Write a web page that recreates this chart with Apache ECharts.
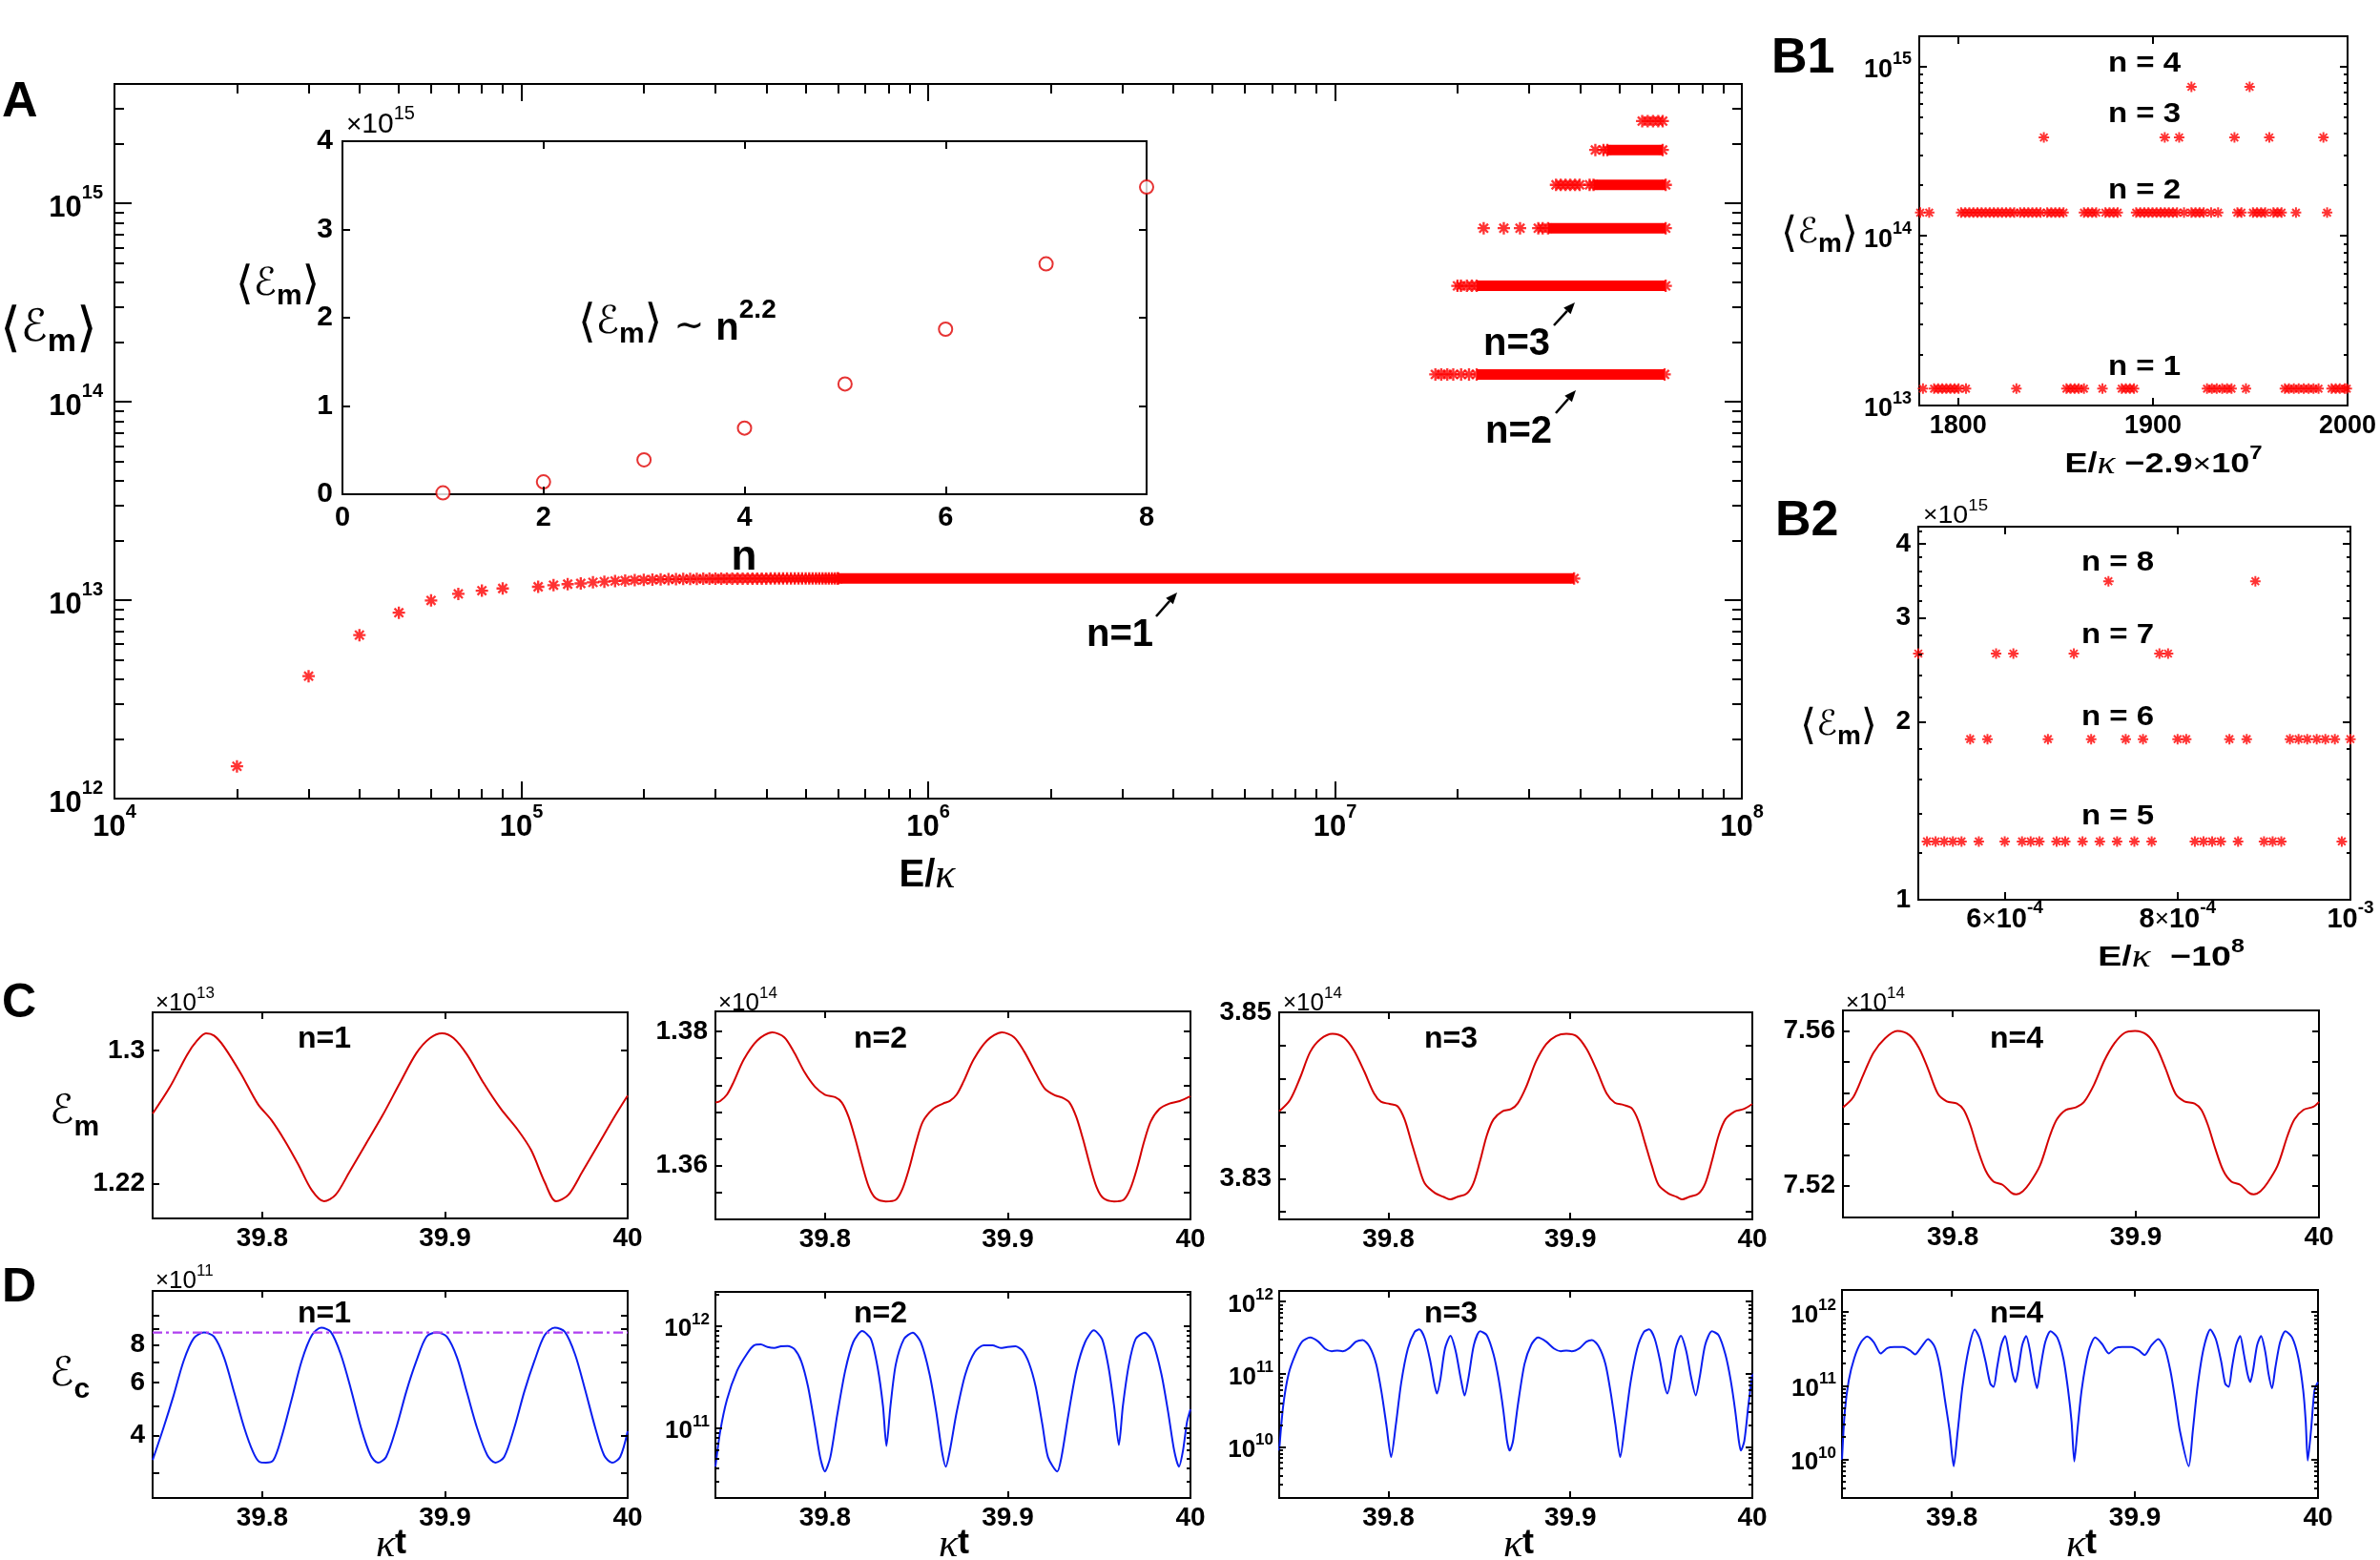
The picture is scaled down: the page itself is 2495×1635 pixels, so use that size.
<!DOCTYPE html>
<html><head><meta charset="utf-8">
<script src="https://cdn.jsdelivr.net/npm/echarts@6/dist/echarts.min.js"></script>
<style>html,body{margin:0;padding:0;background:#fff}#c{width:2495px;height:1635px}</style>
</head><body><div id="c"></div><script>
// ================= DATA =================
// Panel A inset: <E_m> (x10^15) vs n
const insetN = [1, 2, 3, 4, 5, 6, 7, 8];
const insetMeanEm = [0.015, 0.14, 0.39, 0.75, 1.25, 1.87, 2.61, 3.48];

// Panel A: individual n=1 points
const aN1X = [2e4,3e4,4e4,5e4,6e4,7e4,8e4,9e4,1.1e5,1.2e5,1.3e5,1.4e5,1.5e5,1.6e5,1.7e5,1.8e5,1.9e5,2.0e5,2.1e5,2.2e5,2.3e5,2.4e5,2.5e5,2.6e5,2.7e5,2.8e5,2.9e5,3.0e5,
  3.1e5,3.2e5,3.3e5,3.4e5,3.5e5,3.6e5,3.7e5,3.8e5,3.9e5,4.0e5,4.1e5,4.2e5,4.3e5,4.4e5,4.5e5,4.6e5,4.7e5,4.8e5,4.9e5,5.0e5,5.1e5,5.2e5,5.3e5,5.4e5,5.5e5,5.6e5,5.7e5,5.8e5,5.9e5,6.0e5];
const aN1Y = [1.455e12,4.14e12,6.67e12,8.65e12,9.97e12,1.076e13,1.117e13,1.146e13,1.168e13,1.19e13,1.205e13,1.215e13,1.23e13,1.24e13,1.25e13,1.256e13,1.262e13,1.266e13,1.27e13,1.273e13,1.275e13,1.277e13,1.279e13,1.28e13,1.281e13,1.282e13,1.283e13,1.284e13,
  1.284e13,1.284e13,1.285e13,1.285e13,1.285e13,1.285e13,1.285e13,1.285e13,1.285e13,1.285e13,1.286e13,1.286e13,1.286e13,1.286e13,1.286e13,1.286e13,1.286e13,1.286e13,1.286e13,1.286e13,1.286e13,1.286e13,1.286e13,1.286e13,1.286e13,1.286e13,1.286e13,1.286e13,1.286e13,1.286e13];
// Panel A: dense branches n = 1..7 (level, start and end of the solid band)
const aBandN     = [1, 2, 3, 4, 5, 6, 7];
const aBandLevel = [1.286e13, 1.374e14, 3.84e14, 7.5e14, 1.24e15, 1.86e15, 2.6e15];
const aBandStart = [6.0e5, 2.23e7, 2.23e7, 3.34e7, 4.32e7, 4.67e7, null];
const aBandEnd   = [3.87e7, 6.46e7, 6.5e7, 6.5e7, 6.5e7, 6.39e7, null];
// Panel A: isolated points at the beginning of each branch
const aSparseX = [
  [],
  [1.765e7, 1.825e7, 1.888e7, 1.953e7, 2.042e7, 2.135e7],
  [2.0e7, 2.04e7, 2.11e7, 2.17e7],
  [2.32e7, 2.60e7, 2.85e7, 3.16e7, 3.24e7],
  [3.494e7, 3.588e7, 3.686e7, 3.786e7, 3.890e7, 3.994e7, 4.225e7],
  [4.365e7, 4.57e7],
  [5.69e7, 5.87e7, 6.05e7, 6.23e7, 6.39e7]
];

// Panel B1: E/kappa - 2.9e7 positions of points on each branch
const b1Level = [1.257e13, 1.37e14, 3.8e14, 7.55e14];
const b1N1X = [1781.9,1787.6,1789.7,1791.8,1793.9,1796.0,1798.1,1800.2,1804.0,1829.9,1855.6,1857.7,1859.8,1861.9,1864.6,1874.1,1884.0,1886.1,1888.2,1890.3,1927.8,1930.3,1932.8,1935.6,1938.1,1940.4,1947.8,1967.8,1969.9,1972.4,1974.9,1977.5,1980.0,1982.5,1985.1,1991.8,1993.9,1996.0,1998.5,1999.6];
const b1N2X = [1780.5,1785.1,1801.5,1803.6,1805.7,1807.8,1809.9,1812.0,1814.1,1816.2,1818.3,1820.4,1822.5,1824.6,1826.7,1828.8,1831.8,1833.9,1836.0,1838.1,1840.2,1842.3,1845.7,1847.8,1849.9,1852.0,1854.1,1864.6,1866.7,1868.8,1870.9,1875.6,1877.7,1879.8,1881.9,1891.4,1893.5,1895.6,1897.7,1899.8,1901.9,1904.0,1906.1,1908.2,1910.3,1912.4,1916.0,1919.8,1921.9,1924.0,1926.1,1929.9,1933.5,1943.4,1945.5,1951.4,1953.5,1955.6,1957.7,1961.9,1964.0,1966.1,1973.5,1989.5];
const b1N3X = [1844.0,1906.1,1913.5,1941.9,1959.8,1987.6];
const b1N4X = [1919.8,1949.7];

// Panel B2: E/kappa - 1e8 positions, levels in x10^15
const b2Level = [1.255, 1.87, 2.61, 3.46];
const b2N5X = [5.10e-4,5.20e-4,5.30e-4,5.40e-4,5.50e-4,5.70e-4,6.00e-4,6.20e-4,6.30e-4,6.40e-4,6.60e-4,6.70e-4,6.90e-4,7.10e-4,7.30e-4,7.50e-4,7.70e-4,8.20e-4,8.30e-4,8.40e-4,8.50e-4,8.70e-4,9.00e-4,9.10e-4,9.20e-4,9.90e-4];
const b2N6X = [5.60e-4,5.80e-4,6.50e-4,7.00e-4,7.40e-4,7.60e-4,8.00e-4,8.10e-4,8.60e-4,8.80e-4,9.30e-4,9.40e-4,9.50e-4,9.61e-4,9.71e-4,9.82e-4,1.0e-3];
const b2N7X = [5.0e-4,5.90e-4,6.10e-4,6.80e-4,7.79e-4,7.89e-4];
const b2N8X = [7.20e-4,8.90e-4];

// Panel C: E_m(t), n=1 (x10^13), n=2..4 (x10^14)
const cN1 = [[39.7400,1.2620],[39.7496,1.2783],[39.7589,1.2975],[39.7644,1.3061],[39.7692,1.3104],[39.7736,1.3090],[39.7791,1.3023],[39.7884,1.2860],[39.7976,1.2678],[39.8050,1.2582],[39.8124,1.2457],[39.8198,1.2313],[39.8271,1.2160],[39.8338,1.2093],[39.8401,1.2131],[39.8475,1.2265],[39.8567,1.2438],[39.8659,1.2611],[39.8752,1.2802],[39.8844,1.2985],[39.8918,1.3075],[39.8984,1.3104],[39.9047,1.3075],[39.9121,1.2975],[39.9213,1.2802],[39.9306,1.2649],[39.9398,1.2524],[39.9472,1.2400],[39.9546,1.2208],[39.9608,1.2093],[39.9675,1.2131],[39.9749,1.2265],[39.9841,1.2438],[39.9933,1.2611],[40.0000,1.2729]];
const cN2 = [[39.7400,1.36941],[39.7426,1.36964],[39.7463,1.37059],[39.7500,1.37249],[39.7555,1.37582],[39.7629,1.37867],[39.7711,1.37986],[39.7777,1.37914],[39.7833,1.37677],[39.7888,1.37392],[39.7944,1.37178],[39.7999,1.37059],[39.8055,1.37021],[39.8092,1.36941],[39.8129,1.36727],[39.8166,1.36394],[39.8203,1.36014],[39.8240,1.35682],[39.8277,1.35515],[39.8332,1.35468],[39.8387,1.35492],[39.8424,1.35658],[39.8461,1.35967],[39.8498,1.36347],[39.8535,1.36656],[39.8591,1.36846],[39.8646,1.36926],[39.8683,1.36964],[39.8720,1.37059],[39.8757,1.37249],[39.8813,1.37582],[39.8887,1.37867],[39.8968,1.37986],[39.9035,1.37914],[39.9090,1.37701],[39.9146,1.37416],[39.9201,1.37154],[39.9257,1.37050],[39.9301,1.37012],[39.9338,1.36941],[39.9375,1.36727],[39.9412,1.36394],[39.9449,1.36014],[39.9486,1.35682],[39.9523,1.35515],[39.9582,1.35468],[39.9634,1.35492],[39.9671,1.35658],[39.9708,1.35967],[39.9745,1.36347],[39.9782,1.36656],[39.9830,1.36846],[39.9885,1.36926],[39.9941,1.36964],[40.0000,1.37036]];
const cN3 = [[39.7400,3.83809],[39.7459,3.83944],[39.7515,3.84214],[39.7570,3.84522],[39.7626,3.84676],[39.7693,3.84742],[39.7756,3.84696],[39.7811,3.84541],[39.7867,3.84291],[39.7922,3.84021],[39.7959,3.83925],[39.8007,3.83898],[39.8052,3.83867],[39.8089,3.83713],[39.8126,3.83443],[39.8163,3.83173],[39.8200,3.82942],[39.8256,3.82827],[39.8304,3.82780],[39.8341,3.82750],[39.8378,3.82780],[39.8430,3.82819],[39.8467,3.82942],[39.8504,3.83212],[39.8541,3.83520],[39.8578,3.83713],[39.8626,3.83809],[39.8674,3.83836],[39.8711,3.83906],[39.8756,3.84098],[39.8811,3.84407],[39.8867,3.84618],[39.8922,3.84715],[39.8978,3.84742],[39.9033,3.84715],[39.9089,3.84561],[39.9144,3.84310],[39.9200,3.84021],[39.9244,3.83913],[39.9293,3.83886],[39.9337,3.83848],[39.9374,3.83694],[39.9411,3.83424],[39.9448,3.83154],[39.9485,3.82923],[39.9541,3.82819],[39.9585,3.82780],[39.9615,3.82750],[39.9652,3.82780],[39.9704,3.82819],[39.9741,3.82942],[39.9778,3.83212],[39.9815,3.83520],[39.9852,3.83713],[39.9904,3.83809],[39.9952,3.83836],[40.0000,3.83898]];
const cN4 = [[39.7400,7.54025],[39.7456,7.54288],[39.7511,7.54864],[39.7567,7.55440],[39.7630,7.55811],[39.7697,7.56000],[39.7763,7.55893],[39.7815,7.55564],[39.7864,7.55029],[39.7919,7.54370],[39.7967,7.54181],[39.8023,7.54123],[39.8060,7.53959],[39.8097,7.53547],[39.8134,7.52971],[39.8179,7.52395],[39.8223,7.52107],[39.8272,7.52025],[39.8320,7.51819],[39.8346,7.51778],[39.8383,7.51860],[39.8420,7.52066],[39.8476,7.52519],[39.8531,7.53300],[39.8568,7.53712],[39.8617,7.53959],[39.8672,7.54025],[39.8717,7.54165],[39.8772,7.54617],[39.8828,7.55235],[39.8884,7.55687],[39.8939,7.55951],[39.8995,7.56000],[39.9062,7.55893],[39.9114,7.55564],[39.9162,7.55029],[39.9217,7.54370],[39.9265,7.54181],[39.9321,7.54123],[39.9358,7.53959],[39.9395,7.53547],[39.9433,7.52971],[39.9477,7.52395],[39.9522,7.52107],[39.9570,7.52025],[39.9618,7.51819],[39.9644,7.51778],[39.9681,7.51860],[39.9718,7.52066],[39.9774,7.52519],[39.9829,7.53300],[39.9866,7.53712],[39.9915,7.53959],[39.9970,7.54041],[40.0000,7.54165]];

// Panel D: E_c(t); n=1 in x10^11, n=2..4 absolute
const dN1 = [[39.7400,3.313],[39.7459,4.232],[39.7514,5.406],[39.7570,7.077],[39.7625,8.403],[39.7681,8.782],[39.7736,8.507],[39.7791,7.252],[39.7847,5.540],[39.7902,4.232],[39.7950,3.521],[39.7983,3.272],[39.8020,3.248],[39.8061,3.313],[39.8105,3.932],[39.8161,5.276],[39.8216,7.077],[39.8272,8.612],[39.8323,9.110],[39.8375,8.825],[39.8430,7.432],[39.8486,5.678],[39.8541,4.232],[39.8593,3.437],[39.8633,3.248],[39.8678,3.395],[39.8733,4.232],[39.8789,5.608],[39.8844,7.077],[39.8899,8.507],[39.8955,8.782],[39.9010,8.507],[39.9066,7.252],[39.9121,5.540],[39.9176,4.232],[39.9232,3.437],[39.9276,3.248],[39.9324,3.395],[39.9379,4.232],[39.9435,5.608],[39.9490,7.077],[39.9546,8.612],[39.9601,9.110],[39.9656,8.825],[39.9712,7.432],[39.9767,5.678],[39.9823,4.232],[39.9871,3.437],[39.9915,3.248],[39.9959,3.395],[40.0000,4.130]];
const dN1Threshold = 8.78;
const dN2 = [[39.7400,4.157e10],[39.7426,9.173e10],[39.7463,1.884e11],[39.7518,3.599e11],[39.7574,5.348e11],[39.7611,6.401e11],[39.7648,6.541e11],[39.7685,6.175e11],[39.7722,6.043e11],[39.7759,6.265e11],[39.7796,6.310e11],[39.7833,5.871e11],[39.7870,4.467e11],[39.7907,2.512e11],[39.7944,1.059e11],[39.7973,5.158e10],[39.7999,3.731e10],[39.8029,5.158e10],[39.8066,1.314e11],[39.8110,3.599e11],[39.8154,6.879e11],[39.8203,8.847e11],[39.8251,7.391e11],[39.8288,3.868e11],[39.8317,1.632e11],[39.8336,6.636e10],[39.8358,1.632e11],[39.8387,4.157e11],[39.8432,7.391e11],[39.8480,8.535e11],[39.8524,6.879e11],[39.8572,3.350e11],[39.8609,1.413e11],[39.8639,5.957e10],[39.8661,4.157e10],[39.8683,5.957e10],[39.8720,1.413e11],[39.8768,3.350e11],[39.8820,5.544e11],[39.8868,6.401e11],[39.8916,6.401e11],[39.8961,6.043e11],[39.8998,6.175e11],[39.9042,6.265e11],[39.9079,5.747e11],[39.9116,4.309e11],[39.9153,2.512e11],[39.9190,1.059e11],[39.9220,5.158e10],[39.9271,3.731e10],[39.9294,5.158e10],[39.9331,1.314e11],[39.9375,3.599e11],[39.9423,6.879e11],[39.9471,8.978e11],[39.9516,7.391e11],[39.9552,3.868e11],[39.9582,1.632e11],[39.9608,6.781e10],[39.9630,1.632e11],[39.9663,4.157e11],[39.9700,7.391e11],[39.9749,8.535e11],[39.9793,6.879e11],[39.9841,3.350e11],[39.9878,1.413e11],[39.9911,5.957e10],[39.9937,4.157e10],[39.9959,5.957e10],[39.9981,1.138e11],[40.0000,1.518e11]];
const dN3 = [[39.7400,8.852e9],[39.7422,3.674e10],[39.7452,1.015e11],[39.7489,1.868e11],[39.7526,2.807e11],[39.7570,3.203e11],[39.7615,2.807e11],[39.7652,2.244e11],[39.7689,2.069e11],[39.7719,2.112e11],[39.7748,2.069e11],[39.7785,2.290e11],[39.7822,2.807e11],[39.7859,2.953e11],[39.7896,2.410e11],[39.7933,1.377e11],[39.7963,5.516e10],[39.7989,1.996e10],[39.8015,7.222e9],[39.8041,1.996e10],[39.8070,7.483e10],[39.8107,2.244e11],[39.8144,3.806e11],[39.8170,4.130e11],[39.8200,3.107e11],[39.8230,1.525e11],[39.8252,7.483e10],[39.8267,5.405e10],[39.8285,8.286e10],[39.8311,2.244e11],[39.8341,3.370e11],[39.8370,2.069e11],[39.8396,9.171e10],[39.8419,5.087e10],[39.8441,9.171e10],[39.8470,2.535e11],[39.8504,3.885e11],[39.8541,3.439e11],[39.8578,1.868e11],[39.8607,8.286e10],[39.8633,2.999e10],[39.8652,1.201e10],[39.8667,8.852e9],[39.8685,1.201e10],[39.8711,3.674e10],[39.8748,1.377e11],[39.8785,2.535e11],[39.8822,3.203e11],[39.8867,2.807e11],[39.8911,2.244e11],[39.8948,2.069e11],[39.8978,2.112e11],[39.9007,2.069e11],[39.9052,2.290e11],[39.9089,2.807e11],[39.9119,2.953e11],[39.9156,2.410e11],[39.9193,1.377e11],[39.9222,5.516e10],[39.9248,1.996e10],[39.9274,7.222e9],[39.9300,1.996e10],[39.9330,7.483e10],[39.9367,2.244e11],[39.9404,3.806e11],[39.9433,4.130e11],[39.9463,3.107e11],[39.9493,1.525e11],[39.9515,7.483e10],[39.9533,5.405e10],[39.9552,8.286e10],[39.9578,2.244e11],[39.9607,3.370e11],[39.9637,2.069e11],[39.9663,9.171e10],[39.9689,5.087e10],[39.9711,9.171e10],[39.9741,2.535e11],[39.9778,3.885e11],[39.9815,3.439e11],[39.9852,1.868e11],[39.9881,8.286e10],[39.9907,2.999e10],[39.9926,1.201e10],[39.9937,8.852e9],[39.9956,1.201e10],[39.9978,3.674e10],[40.0000,1.015e11]];
const dN4 = [[39.7400,9.803e9],[39.7415,4.359e10],[39.7437,1.178e11],[39.7467,2.364e11],[39.7504,3.887e11],[39.7537,4.649e11],[39.7574,3.887e11],[39.7611,2.745e11],[39.7648,3.250e11],[39.7685,3.348e11],[39.7733,3.348e11],[39.7770,3.031e11],[39.7799,2.664e11],[39.7833,3.348e11],[39.7870,4.294e11],[39.7907,3.348e11],[39.7936,1.754e11],[39.7962,6.487e10],[39.7988,2.400e10],[39.8010,8.036e9],[39.8032,2.400e10],[39.8058,9.655e10],[39.8092,3.185e11],[39.8125,5.787e11],[39.8154,4.294e11],[39.8184,2.140e11],[39.8210,1.067e11],[39.8228,9.655e10],[39.8247,1.754e11],[39.8269,3.519e11],[39.8291,4.744e11],[39.8310,2.884e11],[39.8332,1.438e11],[39.8347,1.121e11],[39.8362,1.588e11],[39.8384,3.519e11],[39.8406,4.744e11],[39.8428,2.884e11],[39.8447,1.438e11],[39.8465,9.190e10],[39.8484,1.754e11],[39.8510,3.887e11],[39.8539,5.506e11],[39.8576,4.512e11],[39.8609,2.364e11],[39.8635,8.743e10],[39.8654,3.234e10],[39.8669,9.328e9],[39.8687,2.650e10],[39.8709,8.743e10],[39.8746,2.884e11],[39.8783,4.512e11],[39.8820,3.699e11],[39.8857,2.745e11],[39.8894,3.250e11],[39.8931,3.348e11],[39.8979,3.348e11],[39.9020,3.031e11],[39.9053,2.611e11],[39.9090,3.519e11],[39.9127,4.294e11],[39.9164,3.185e11],[39.9194,1.588e11],[39.9220,6.487e10],[39.9246,2.400e10],[39.9294,8.036e9],[39.9316,2.400e10],[39.9342,9.655e10],[39.9375,3.185e11],[39.9412,5.787e11],[39.9442,4.294e11],[39.9471,2.140e11],[39.9493,1.067e11],[39.9512,9.655e10],[39.9530,1.754e11],[39.9552,3.519e11],[39.9575,4.744e11],[39.9593,2.884e11],[39.9615,1.438e11],[39.9630,1.121e11],[39.9645,1.588e11],[39.9667,3.519e11],[39.9689,4.744e11],[39.9712,2.884e11],[39.9730,1.438e11],[39.9749,9.190e10],[39.9767,1.754e11],[39.9793,3.887e11],[39.9822,5.506e11],[39.9859,4.512e11],[39.9893,2.364e11],[39.9919,8.743e10],[39.9933,3.234e10],[39.9944,9.610e9],[39.9963,2.650e10],[39.9981,8.743e10],[40.0000,1.121e11]];

// Tick values
const decadesA_X = [1e4,1e5,1e6,1e7,1e8];
const decadesA_Y = [1e12,1e13,1e14,1e15];
const tC = [39.8, 39.9, 40];

// ================= STYLE HELPERS =================
const FONT = '"Liberation Sans", Arial, Helvetica, sans-serif';
const SERIF = '"Liberation Serif", "DejaVu Serif", serif';
const MATH = '"DejaVu Sans", sans-serif';
const STAR = 'path://M-1.8,-10L1.8,-10L1.8,10L-1.8,10Z M-10,-1.8L10,-1.8L10,1.8L-10,1.8Z M8.34,5.80L5.80,8.34L-8.34,-5.80L-5.80,-8.34Z M8.34,-5.80L-5.80,8.34L-8.34,5.80L5.80,-8.34Z';
const RED = '#ff0000', CRED = '#d40000', BLUE = '#0a1ef0', PURPLE = '#b040f0';

function tok(H, fs, o, extra) {
  const pt = (H - fs) / 2 + o, pb = (H - fs) / 2 - o;
  return Object.assign({fontSize: fs, lineHeight: fs, padding: [pt, 0, pb, 0], fontWeight: 'bold',
    fontFamily: FONT, fontStyle: 'normal', color: '#000', fill: '#000'}, extra || {});
}
const NORM = {fontWeight: 'normal'};
const KAPPA = {fontFamily: SERIF, fontStyle: 'italic', fontWeight: 'normal'};
const MTH = {fontFamily: MATH, fontWeight: 'normal'};
function logFmt(v) { return '{b|10}{s|' + Math.round(Math.log10(v)) + '}'; }
function numFmt(v) { return String(+(+v).toFixed(6)); }

const richA = {b: tok(42, 31, 5), s: tok(42, 20, -11)};
const richB1 = {b: tok(36, 27, 4), s: tok(36, 18, -7)};
const richD = {b: tok(34, 26, 3.5), s: tok(34, 17, -6.5)};
const richB2x = {b: tok(38, 29, 4), x: tok(38, 26, 4, NORM), s: tok(38, 19, -7.5)};

// ================= OPTION =================
const option = {animation: false, backgroundColor: '#fff', textStyle: {fontFamily: FONT},
  grid: [], xAxis: [], yAxis: [], series: [], graphic: []};

function axisObj(gi, spec, pos, ticks, len, label) {
  return {
    type: spec.type, gridIndex: gi, position: pos, min: spec.min, max: spec.max,
    axisLine: {show: false, onZero: false}, splitLine: {show: false}, splitArea: {show: false},
    minorTick: {show: false}, minorSplitLine: {show: false},
    axisTick: {show: !!(ticks && ticks.length), inside: true, length: len, customValues: ticks || [],
      lineStyle: {color: '#000', width: 2}},
    axisLabel: label ? Object.assign({show: true, customValues: spec.labels, color: '#000',
      fontFamily: FONT, fontWeight: 'bold'}, label) : {show: false},
    silent: true, z: 5
  };
}
function addPanel(box, xs, ys, len, mlen) {
  const gi = option.grid.length;
  option.grid.push({left: box[0], top: box[1], width: box[2], height: box[3], show: true,
    borderColor: '#000', borderWidth: 2, backgroundColor: '#fff', containLabel: false, outerBoundsMode: 'none'});
  const xi = option.xAxis.length, yi = option.yAxis.length;
  option.xAxis.push(axisObj(gi, xs, 'bottom', xs.ticks, len, xs.label));
  option.xAxis.push(axisObj(gi, xs, 'top', xs.ticks, len, null));
  if (xs.minor) {
    option.xAxis.push(axisObj(gi, xs, 'bottom', xs.minor, mlen, null));
    option.xAxis.push(axisObj(gi, xs, 'top', xs.minor, mlen, null));
  }
  option.yAxis.push(axisObj(gi, ys, 'left', ys.ticks, len, ys.label));
  option.yAxis.push(axisObj(gi, ys, 'right', ys.ticks, len, null));
  if (ys.minor) {
    option.yAxis.push(axisObj(gi, ys, 'left', ys.minor, mlen, null));
    option.yAxis.push(axisObj(gi, ys, 'right', ys.minor, mlen, null));
  }
  return {xAxisIndex: xi, yAxisIndex: yi};
}
function scatter(ax, data, o) {
  option.series.push(Object.assign({type: 'scatter', xAxisIndex: ax.xAxisIndex, yAxisIndex: ax.yAxisIndex,
    data: data, symbol: STAR, symbolSize: 13, itemStyle: {color: RED}, silent: true, z: 3}, o || {}));
}
function line(ax, data, color, o) {
  option.series.push(Object.assign({type: 'line', xAxisIndex: ax.xAxisIndex, yAxisIndex: ax.yAxisIndex,
    data: data, showSymbol: false, symbol: 'none', smooth: 0.3, lineStyle: {color: color, width: 2},
    silent: true, z: 3}, o || {}));
}
function minorLog(decs, mult) { const r = []; decs.forEach(d => mult.forEach(m => r.push(m * d))); return r; }
const M29 = [2,3,4,5,6,7,8,9];

// ---------- Panel A ----------
const axA = addPanel([120, 88, 1706, 749],
  {type: 'log', min: 0.9999e4, max: 1.0001e8, labels: decadesA_X, ticks: decadesA_X,
   minor: minorLog([1e4,1e5,1e6,1e7], M29),
   label: {formatter: logFmt, rich: richA, margin: 10}},
  {type: 'log', min: 0.9999e12, max: 4e15, labels: decadesA_Y, ticks: decadesA_Y,
   minor: minorLog([1e12,1e13,1e14], M29).concat([2e15, 3e15]),
   label: {formatter: logFmt, rich: richA, margin: 12}}, 18, 10);
aBandN.forEach((n, k) => {
  if (aBandStart[k] !== null) {
    line(axA, [[aBandStart[k], aBandLevel[k]], [aBandEnd[k], aBandLevel[k]]], RED,
      {smooth: false, lineStyle: {color: RED, width: 11, cap: 'butt'}});
    scatter(axA, [[aBandStart[k], aBandLevel[k]], [aBandEnd[k], aBandLevel[k]]]);
  }
  if (aSparseX[k].length) scatter(axA, aSparseX[k].map(x => [x, aBandLevel[k]]));
});
scatter(axA, aN1X.map((x, i) => [x, aN1Y[i]]));

// ---------- Inset ----------
const axI = addPanel([359, 148, 843, 370],
  {type: 'value', min: 0, max: 8, labels: [0,2,4,6,8], ticks: [0,2,4,6,8],
   label: {formatter: numFmt, fontSize: 29, margin: 10}},
  {type: 'value', min: 0, max: 4, labels: [0,1,2,3,4], ticks: [0,1,2,3,4],
   label: {formatter: numFmt, fontSize: 30, margin: 10}}, 8, 4);
scatter(axI, insetN.map((n, i) => [n, insetMeanEm[i]]),
  {symbol: 'emptyCircle', symbolSize: 14, itemStyle: {color: '#e00000', borderWidth: 1.8}});

// ---------- Panel B1 ----------
const axB1 = addPanel([2012, 38, 449, 387],
  {type: 'value', min: 1780, max: 2000, labels: [1800,1900,2000], ticks: [1800,1900,2000],
   label: {formatter: numFmt, fontSize: 27, margin: 8}},
  {type: 'log', min: 0.9999e13, max: 1.5e15, labels: [1e13,1e14,1e15], ticks: [1e13,1e14,1e15],
   minor: minorLog([1e13,1e14], M29),
   label: {formatter: logFmt, rich: richB1, margin: 8}}, 8, 4);
[b1N1X, b1N2X, b1N3X, b1N4X].forEach((xs, k) =>
  scatter(axB1, xs.map(x => [x, b1Level[k]]), {symbolSize: 11}));

// ---------- Panel B2 ----------
const axB2 = addPanel([2011, 552, 453, 391],
  {type: 'value', min: 5e-4, max: 1e-3, labels: [6e-4, 8e-4, 1e-3], ticks: [6e-4, 8e-4, 1e-3],
   label: {formatter: v => Math.abs(v - 1e-3) < 1e-9 ? '{b|10}{s|-3}' : '{b|' + Math.round(v * 1e4) + '}{x|×}{b|10}{s|-4}',
           rich: richB2x, margin: 2}},
  {type: 'log', min: 0.9999, max: 4.28, labels: [1,2,3,4], ticks: [1,2,3,4],
   minor: [1.2,1.4,1.6,1.8,2.2,2.4,2.6,2.8,3.2,3.4,3.6,3.8,4.2],
   label: {formatter: numFmt, fontSize: 28, margin: 8}}, 8, 4);
[b2N5X, b2N6X, b2N7X, b2N8X].forEach((xs, k) =>
  scatter(axB2, xs.map(x => [x, b2Level[k]]), {symbolSize: 11}));

// ---------- Panels C ----------
const xC = {type: 'value', min: 39.74, max: 40, labels: tC, ticks: tC,
  label: {formatter: numFmt, fontSize: 28, margin: 7}};
const cLab = {formatter: numFmt, fontSize: 28, margin: 8};
const axC1 = addPanel([160, 1061, 498, 216], xC,
  {type: 'value', min: 1.199, max: 1.323, labels: [1.22, 1.3], ticks: [1.22, 1.3], label: cLab}, 7, 4);
line(axC1, cN1, CRED);
const axC2 = addPanel([750, 1060, 498, 218], xC,
  {type: 'value', min: 1.352, max: 1.383, labels: [1.36, 1.38], ticks: [1.356,1.36,1.364,1.368,1.372,1.376,1.38], label: cLab}, 7, 4);
line(axC2, cN2, CRED);
const axC3 = addPanel([1341, 1061, 496, 217], xC,
  {type: 'value', min: 3.8251, max: 3.85, labels: [3.83, 3.85], ticks: [3.826,3.83,3.834,3.838,3.842,3.846,3.85], label: cLab}, 7, 4);
line(axC3, cN3, CRED);
const axC4 = addPanel([1932, 1059, 499, 217], xC,
  {type: 'value', min: 7.5118, max: 7.5653, labels: [7.52, 7.56], ticks: [7.52,7.528,7.536,7.544,7.552,7.56], label: cLab}, 7, 4);
line(axC4, cN4, CRED);

// ---------- Panels D ----------
const axD1 = addPanel([160, 1353, 498, 217], xC,
  {type: 'log', min: 2.48, max: 12.07, labels: [4, 6, 8], ticks: [3,4,5,6,7,8,9,10], label: cLab}, 7, 4);
line(axD1, dN1, BLUE);
line(axD1, [[39.74, dN1Threshold], [40, dN1Threshold]], PURPLE,
  {smooth: false, lineStyle: {color: PURPLE, width: 2.2, type: [10, 4, 3, 4]}});
const dLogLab = {formatter: logFmt, rich: richD, margin: 6};
const axD2 = addPanel([750, 1354, 498, 216], xC,
  {type: 'log', min: 2.05e10, max: 2.14e12, labels: [1e11, 1e12], ticks: [1e11, 1e12],
   minor: minorLog([1e10], [3,4,5,6,7,8,9]).concat(minorLog([1e11], M29), [2e12]), label: dLogLab}, 7, 4);
line(axD2, dN2, BLUE, {smooth: 0.25});
const axD3 = addPanel([1341, 1353, 496, 217], xC,
  {type: 'log', min: 1.97e9, max: 1.4e12, labels: [1e10, 1e11, 1e12], ticks: [1e10, 1e11, 1e12],
   minor: minorLog([1e9, 1e10, 1e11], M29), label: dLogLab}, 7, 4);
line(axD3, dN3, BLUE, {smooth: 0.25});
const axD4 = addPanel([1931, 1352, 499, 218], xC,
  {type: 'log', min: 2.97e9, max: 2.0e12, labels: [1e10, 1e11, 1e12], ticks: [1e10, 1e11, 1e12],
   minor: minorLog([1e9], [3,4,5,6,7,8,9]).concat(minorLog([1e10, 1e11], M29)), label: dLogLab}, 7, 4);
line(axD4, dN4, BLUE, {smooth: 0.25});

// ================= TEXT ANNOTATIONS =================
function T(x, y, text, align, styleExtra, sx) {
  option.graphic.push({type: 'text', x: x, y: y, z: 100, silent: true, scaleX: sx || 1,
    style: Object.assign({text: text, fill: '#000', align: align, textAlign: align,
      verticalAlign: 'middle', textVerticalAlign: 'middle',
      fontFamily: FONT, fontWeight: 'bold', fontSize: 30}, styleExtra || {})});
}
function emRich(H, fb, fe, fm, lm) {
  return {a: tok(H, fb, 0, MTH), e: tok(H, fe, -2, MTH), m: tok(H, fm, lm)};
}
function arrow(x1, y1, x2, y2) {
  const dx = x2 - x1, dy = y2 - y1, L = Math.hypot(dx, dy), ux = dx / L, uy = dy / L;
  const hl = 12, hw = 5, bx = x2 - ux * hl, by = y2 - uy * hl;
  option.graphic.push({type: 'line', z: 100, silent: true, shape: {x1: x1, y1: y1, x2: bx, y2: by},
    style: {stroke: '#000', lineWidth: 2.5}});
  option.graphic.push({type: 'polygon', z: 100, silent: true,
    shape: {points: [[x2, y2], [bx - uy * hw, by + ux * hw], [bx + uy * hw, by - ux * hw]]},
    style: {fill: '#000'}});
}
const EM = '{a|⟨}{e|ℰ}{m|m}{a|⟩}';
const X10 = {x: tok(34, 24, 3.5, NORM), b: tok(34, 26, 3.5, NORM), s: tok(34, 17, -6.5, NORM)};

// Panel A
T(2, 108, 'A', 'left', {fontSize: 52});
T(0, 347, EM, 'left', {rich: emRich(62, 56, 46, 34, 12)});
T(972, 918, '{b|E/}{k|κ}', 'center', {rich: {b: tok(48, 40, 0), k: tok(48, 44, 0, KAPPA)}});
T(363, 127, '{x|×}{b|10}{s|15}', 'left', {rich: {x: tok(40, 28, 4, NORM), b: tok(40, 30, 4, NORM), s: tok(40, 20, -8, NORM)}});
T(247, 301, EM, 'left', {rich: emRich(54, 48, 40, 30, 10)});
T(606, 341, EM + '{w| ∼ }{t|n}{s|2.2}', 'left', {rich: Object.assign(emRich(64, 48, 40, 30, 10),
  {w: tok(64, 38, 2, MTH), t: tok(64, 40, 4), s: tok(64, 28, -16)})});
T(780, 585, 'n', 'center', {fontSize: 44});
T(1174, 666, 'n=1', 'center', {fontSize: 40});
T(1590, 361, 'n=3', 'center', {fontSize: 40});
T(1592, 453, 'n=2', 'center', {fontSize: 40});
arrow(1212, 646, 1234, 621);
arrow(1629, 341, 1651, 317);
arrow(1631, 433, 1652, 409);

// Panel B1
T(1857, 62, 'B1', 'left', {fontSize: 52});
T(1867, 247, EM, 'left', {rich: emRich(50, 44, 36, 28, 9)});
T(2248, 67, 'n = 4', 'center', {fontSize: 30}, 1.1);
T(2248, 120, 'n = 3', 'center', {fontSize: 30}, 1.1);
T(2248, 200, 'n = 2', 'center', {fontSize: 30}, 1.1);
T(2248, 385, 'n = 1', 'center', {fontSize: 30}, 1.1);
T(2268, 483, '{b|E/}{k|κ}{b| −2.9}{x|×}{b|10}{s|7}', 'center',
  {rich: {b: tok(42, 30, 4), k: tok(42, 33, 4, KAPPA), x: tok(42, 28, 4, NORM), s: tok(42, 20, -8)}}, 1.2);

// Panel B2
T(1861, 547, 'B2', 'left', {fontSize: 52});
T(2016, 537, '{x|×}{b|10}{s|15}', 'left', {rich: X10}, 1.1);
T(1887, 763, EM, 'left', {rich: emRich(50, 44, 36, 28, 9)});
T(2220, 590, 'n = 8', 'center', {fontSize: 30}, 1.1);
T(2220, 666, 'n = 7', 'center', {fontSize: 30}, 1.1);
T(2220, 752, 'n = 6', 'center', {fontSize: 30}, 1.1);
T(2220, 856, 'n = 5', 'center', {fontSize: 30}, 1.1);
T(2276, 1000, '{b|E/}{k|κ}{b|  −10}{s|8}', 'center',
  {rich: {b: tok(42, 30, 4), k: tok(42, 33, 4, KAPPA), s: tok(42, 20, -8)}}, 1.25);

// Panels C
T(2, 1052, 'C', 'left', {fontSize: 50});
T(52, 1170, '{e|ℰ}{m|m}', 'left', {rich: {e: tok(60, 42, -4, MTH), m: tok(60, 30, 12)}});
T(163, 1048, '{x|×}{b|10}{s|13}', 'left', {rich: X10});
T(753, 1048, '{x|×}{b|10}{s|14}', 'left', {rich: X10});
T(1345, 1048, '{x|×}{b|10}{s|14}', 'left', {rich: X10});
T(1935, 1048, '{x|×}{b|10}{s|14}', 'left', {rich: X10});
[[340, 'n=1'], [923, 'n=2'], [1521, 'n=3'], [2114, 'n=4']].forEach(p => {
  T(p[0], 1089, p[1], 'center', {fontSize: 32});
  T(p[0], 1377, p[1], 'center', {fontSize: 32});
});

// Panels D
T(2, 1350, 'D', 'left', {fontSize: 50});
T(52, 1445, '{e|ℰ}{m|c}', 'left', {rich: {e: tok(60, 42, -4, MTH), m: tok(60, 30, 12)}});
T(163, 1339, '{x|×}{b|10}{s|11}', 'left', {rich: X10});
[410, 1000, 1592, 2182].forEach(x =>
  T(x, 1618, '{k|κ}{b|t}', 'center', {rich: {k: tok(44, 42, 2, KAPPA), b: tok(44, 36, 0)}}));

const chart = echarts.init(document.getElementById('c'), null, {renderer: 'canvas', width: 2495, height: 1635});
chart.setOption(option);
</script></body></html>
